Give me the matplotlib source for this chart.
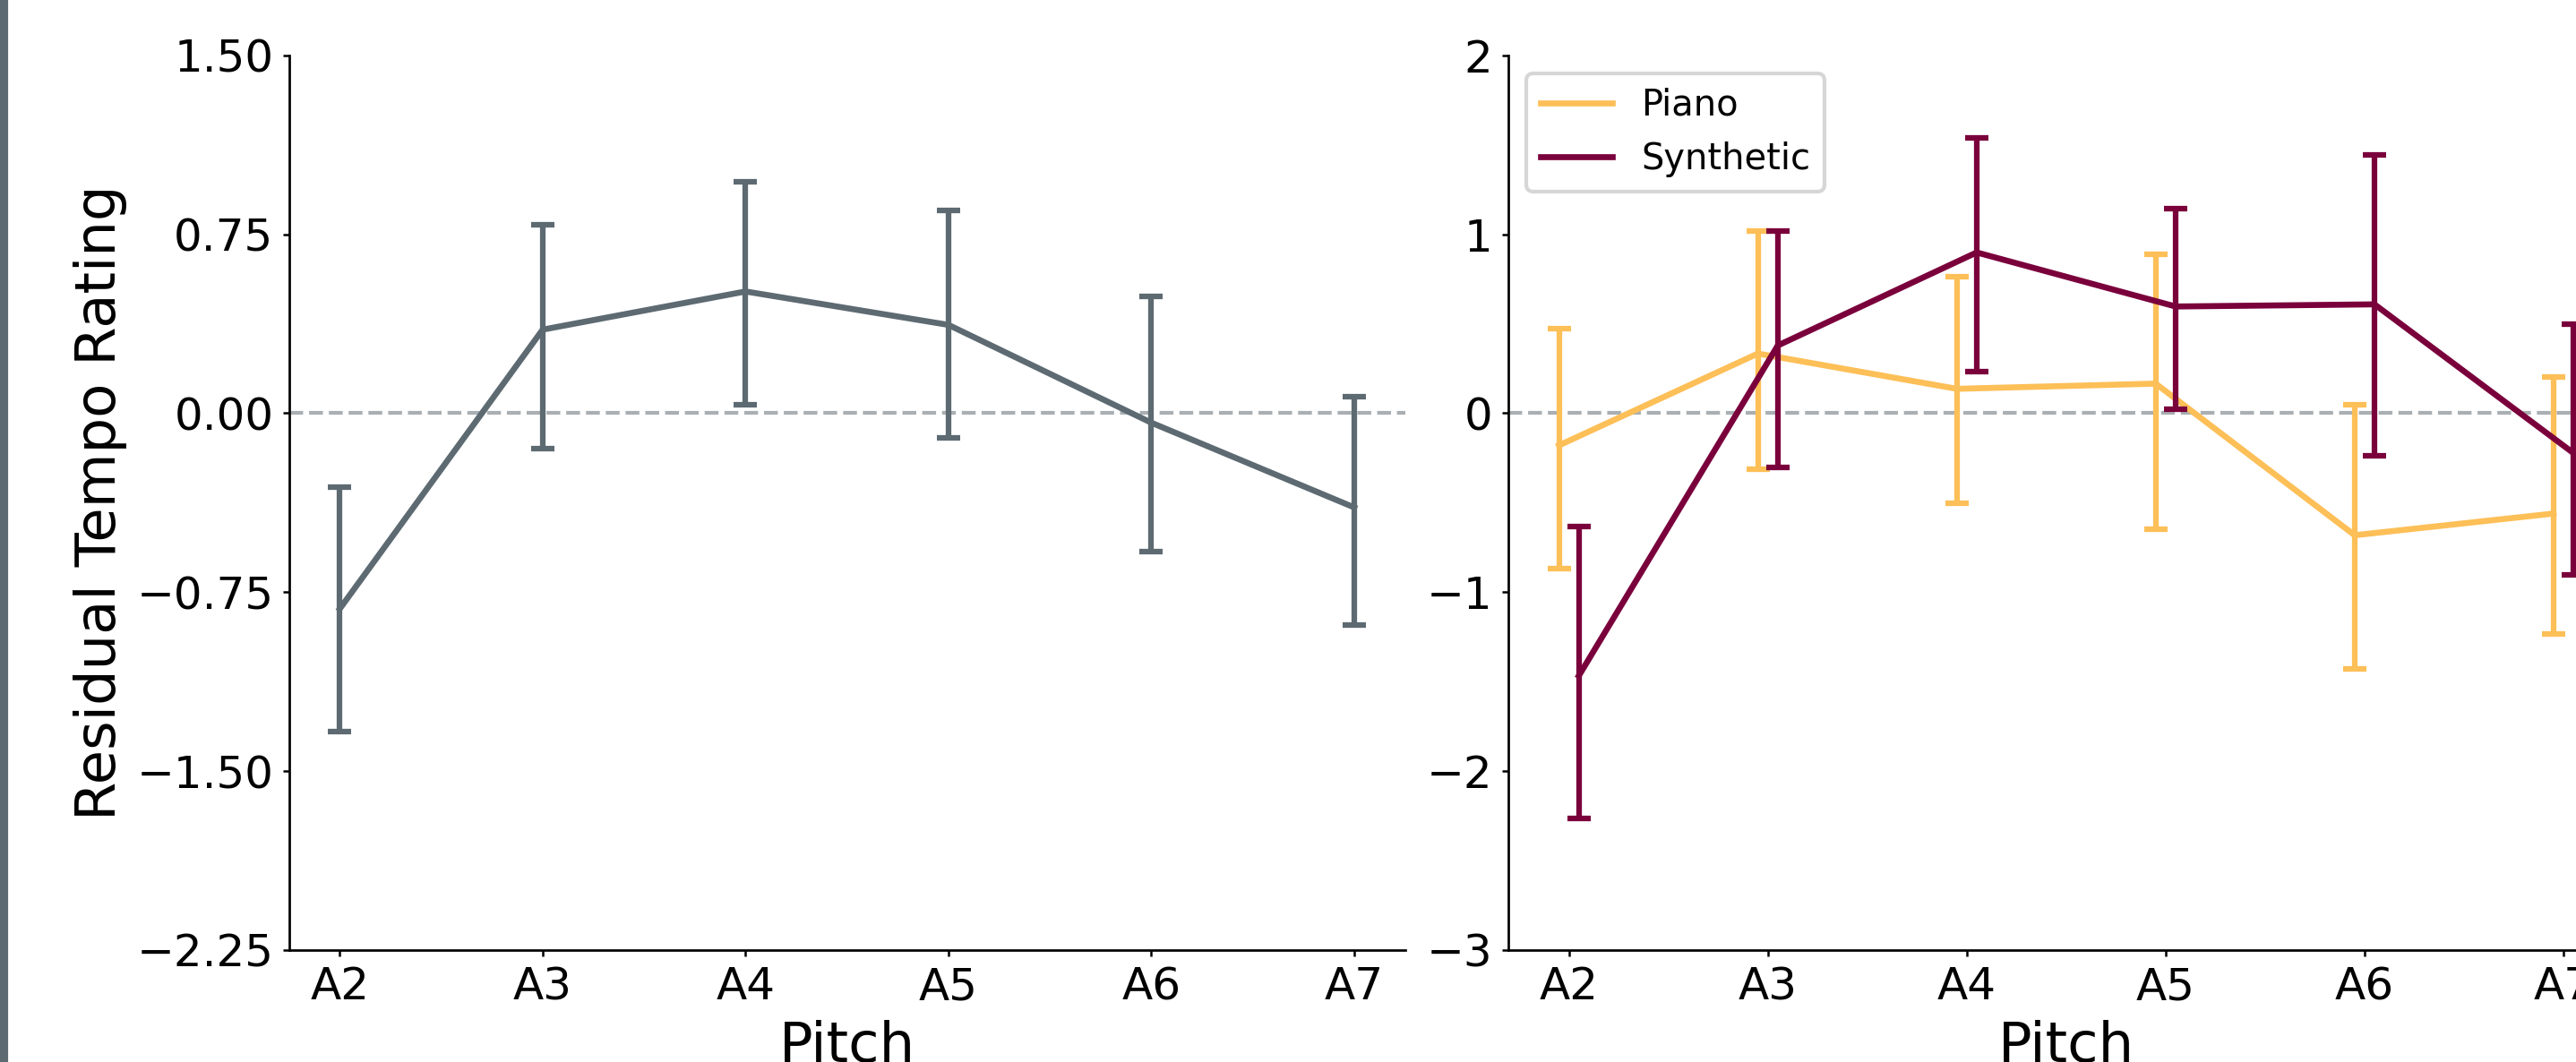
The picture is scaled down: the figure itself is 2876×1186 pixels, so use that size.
import matplotlib.pyplot as plt
import numpy as np
from matplotlib.patches import Rectangle

# Данные
pitches = ['A2', 'A3', 'A4', 'A5', 'A6', 'A7']

# left panel: all stimuli pooled
all_mean = [-0.82, 0.35, 0.51, 0.37, -0.04, -0.395]
all_low = [-1.335, -0.148, 0.036, -0.103, -0.582, -0.889]
all_high = [-0.309, 0.790, 0.969, 0.848, 0.490, 0.070]

# right panel: split by timbre
piano_mean = [-0.18, 0.333, 0.136, 0.165, -0.682, -0.561]
piano_low = [-0.871, -0.313, -0.501, -0.648, -1.429, -1.232]
piano_high = [0.471, 1.02, 0.761, 0.89, 0.049, 0.201]

synth_mean = [-1.467, 0.378, 0.898, 0.596, 0.608, -0.223]
synth_low = [-2.267, -0.301, 0.231, 0.021, -0.239, -0.902]
synth_high = [-0.634, 1.02, 1.539, 1.143, 1.442, 0.498]

GRAY = '#5D6A72'
ORANGE = '#FDBF57'
MAROON = '#7A003C'

fig = plt.figure(figsize=(2876 / 300, 1186 / 300), dpi=300)
ax1 = fig.add_axes([0.1122, 0.1054, 0.4332, 0.8426])
ax2 = fig.add_axes([0.5855, 0.1054, 0.4332, 0.8426])

# grey side bar on the left edge
fig.patches.append(Rectangle((0, 0), 7 / 2876, 1, transform=fig.transFigure,
                             color=GRAY, zorder=0))

x = np.arange(len(pitches))


def draw(ax, xpos, mean, low, high, color, label=None):
    mean = np.array(mean)
    yerr = [mean - np.array(low), np.array(high) - mean]
    ax.errorbar(xpos, mean, yerr=yerr, fmt='none', ecolor=color,
                elinewidth=1.5, capsize=3.2, capthick=1.5)
    ax.plot(xpos, mean, color=color, lw=1.6, label=label)


draw(ax1, x, all_mean, all_low, all_high, GRAY)
draw(ax2, x - 0.05, piano_mean, piano_low, piano_high, ORANGE, 'Piano')
draw(ax2, x + 0.05, synth_mean, synth_low, synth_high, MAROON, 'Synthetic')

for ax in (ax1, ax2):
    ax.axhline(0, color='#A9AFB3', ls='--', lw=1.0, zorder=0)
    ax.set_xticks(x)
    ax.set_xticklabels(pitches)
    ax.set_xlabel('Pitch', fontsize=15, labelpad=3)
    ax.tick_params(labelsize=12, length=1.75, width=0.6, pad=2.4)
    for s in ['top', 'right']:
        ax.spines[s].set_visible(False)
    for s in ['left', 'bottom']:
        ax.spines[s].set_linewidth(0.65)

ax1.set_xlim(-0.25, 5.25)
ax1.set_ylim(-2.25, 1.5)
ax1.set_yticks(np.linspace(-2.25, 1.5, 6))
ax1.set_ylabel('Residual Tempo Rating', fontsize=15, labelpad=2.5)

ax2.set_xlim(-0.305, 5.305)
ax2.set_ylim(-3, 2)
ax2.set_yticks([-3, -2, -1, 0, 1, 2])
ax2.legend(loc='upper left', fontsize=9.6)

fig.savefig('out.png', dpi=300)
